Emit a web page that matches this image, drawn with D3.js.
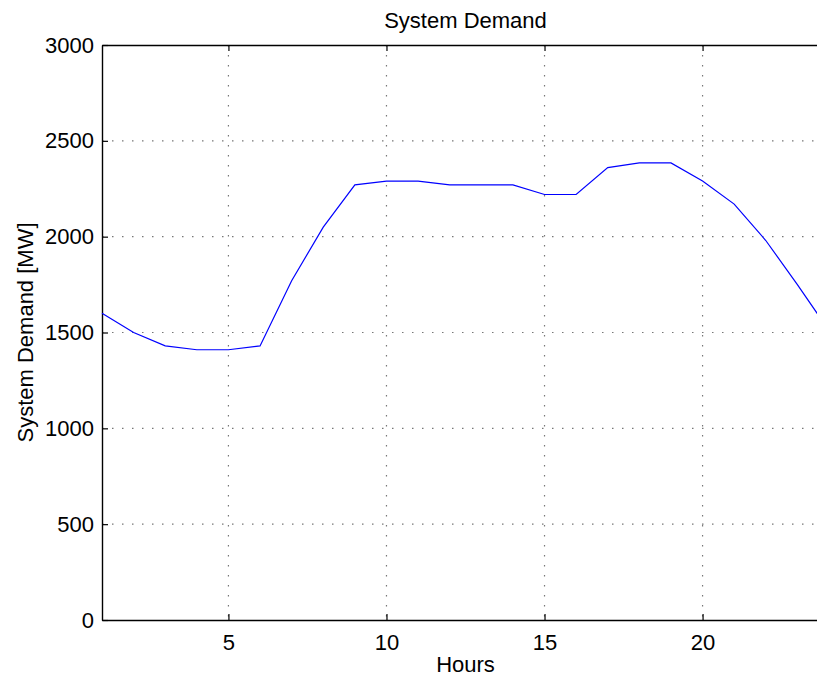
<!DOCTYPE html>
<html>
<head>
<meta charset="utf-8">
<script src="https://cdn.jsdelivr.net/npm/d3@7"></script>
<style>
body { margin: 0; background: #fff; }
text { font-family: "Liberation Sans", Arial, sans-serif; fill: #000; }
</style>
</head>
<body>
<div id="chart"></div>
<script>
var hours = [1,2,3,4,5,6,7,8,9,10,11,12,13,14,15,16,17,18,19,20,21,22,23,24];
var demand = [1600,1500,1430,1410,1410,1430,1770,2050,2270,2290,2290,2270,2270,2270,2220,2220,2360,2385,2385,2290,2170,1980,1750,1510];
var xTicks = [5,10,15,20];
var yTicks = [0,500,1000,1500,2000,2500,3000];

var w = 817, h = 677;
var mLeft = 102, mRight = 829, mTop = 45, mBottom = 620;

var svg = d3.select("#chart").append("svg")
	.attr("width", w)
	.attr("height", h);

var x = d3.scaleLinear().domain([1, 24]).range([mLeft, mRight]);
var y = d3.scaleLinear().domain([0, 3000]).range([mBottom, mTop]);

// grid
svg.selectAll(".gx").data(xTicks).enter().append("line")
	.attr("x1", d => x(d)).attr("x2", d => x(d))
	.attr("y1", mTop).attr("y2", mBottom)
	.attr("stroke", "#777").attr("stroke-width", 1.2)
	.attr("stroke-dasharray", "1.5,8.5");
svg.selectAll(".gy").data(yTicks.slice(1, -1)).enter().append("line")
	.attr("x1", mLeft).attr("x2", mRight)
	.attr("y1", d => y(d)).attr("y2", d => y(d))
	.attr("stroke", "#777").attr("stroke-width", 1.2)
	.attr("stroke-dasharray", "1.5,8.5");

// axes, ticks inward
svg.append("g").attr("transform", "translate(0," + mBottom + ")")
	.call(d3.axisBottom(x).tickValues(xTicks).tickFormat(d3.format("d")).tickSizeInner(-6).tickSizeOuter(0).tickPadding(14));
svg.append("g").attr("transform", "translate(0," + mTop + ")")
	.call(d3.axisTop(x).tickValues(xTicks).tickSizeInner(-6).tickSizeOuter(0).tickFormat(""));
svg.append("g").attr("transform", "translate(" + mLeft + ",0)")
	.call(d3.axisLeft(y).tickValues(yTicks).tickFormat(d3.format("d")).tickSizeInner(-6).tickSizeOuter(0).tickPadding(8));
svg.append("g").attr("transform", "translate(" + mRight + ",0)")
	.call(d3.axisRight(y).tickValues(yTicks).tickSizeInner(-6).tickSizeOuter(0).tickFormat(""));

svg.selectAll(".domain").attr("stroke", "#000").attr("stroke-width", 1.4);
svg.selectAll(".tick line").attr("stroke", "#000").attr("stroke-width", 1.2);
svg.selectAll(".tick text").attr("font-size", 22).attr("font-family", "Liberation Sans, Arial, sans-serif");

// line
var line = d3.line().x((d, i) => x(hours[i])).y(d => y(d));
svg.append("path")
	.datum(demand)
	.attr("d", line)
	.attr("fill", "none")
	.attr("stroke", "#0000ff")
	.attr("stroke-width", 1.2);

// labels
svg.append("text").attr("x", (mLeft + mRight) / 2).attr("y", 28)
	.attr("text-anchor", "middle").attr("font-size", 22).text("System Demand");
svg.append("text").attr("x", (mLeft + mRight) / 2).attr("y", 672)
	.attr("text-anchor", "middle").attr("font-size", 22).text("Hours");
svg.append("text").attr("transform", "translate(33," + ((mTop + mBottom) / 2) + ") rotate(-90)")
	.attr("text-anchor", "middle").attr("font-size", 22).text("System Demand [MW]");
</script>
</body>
</html>
